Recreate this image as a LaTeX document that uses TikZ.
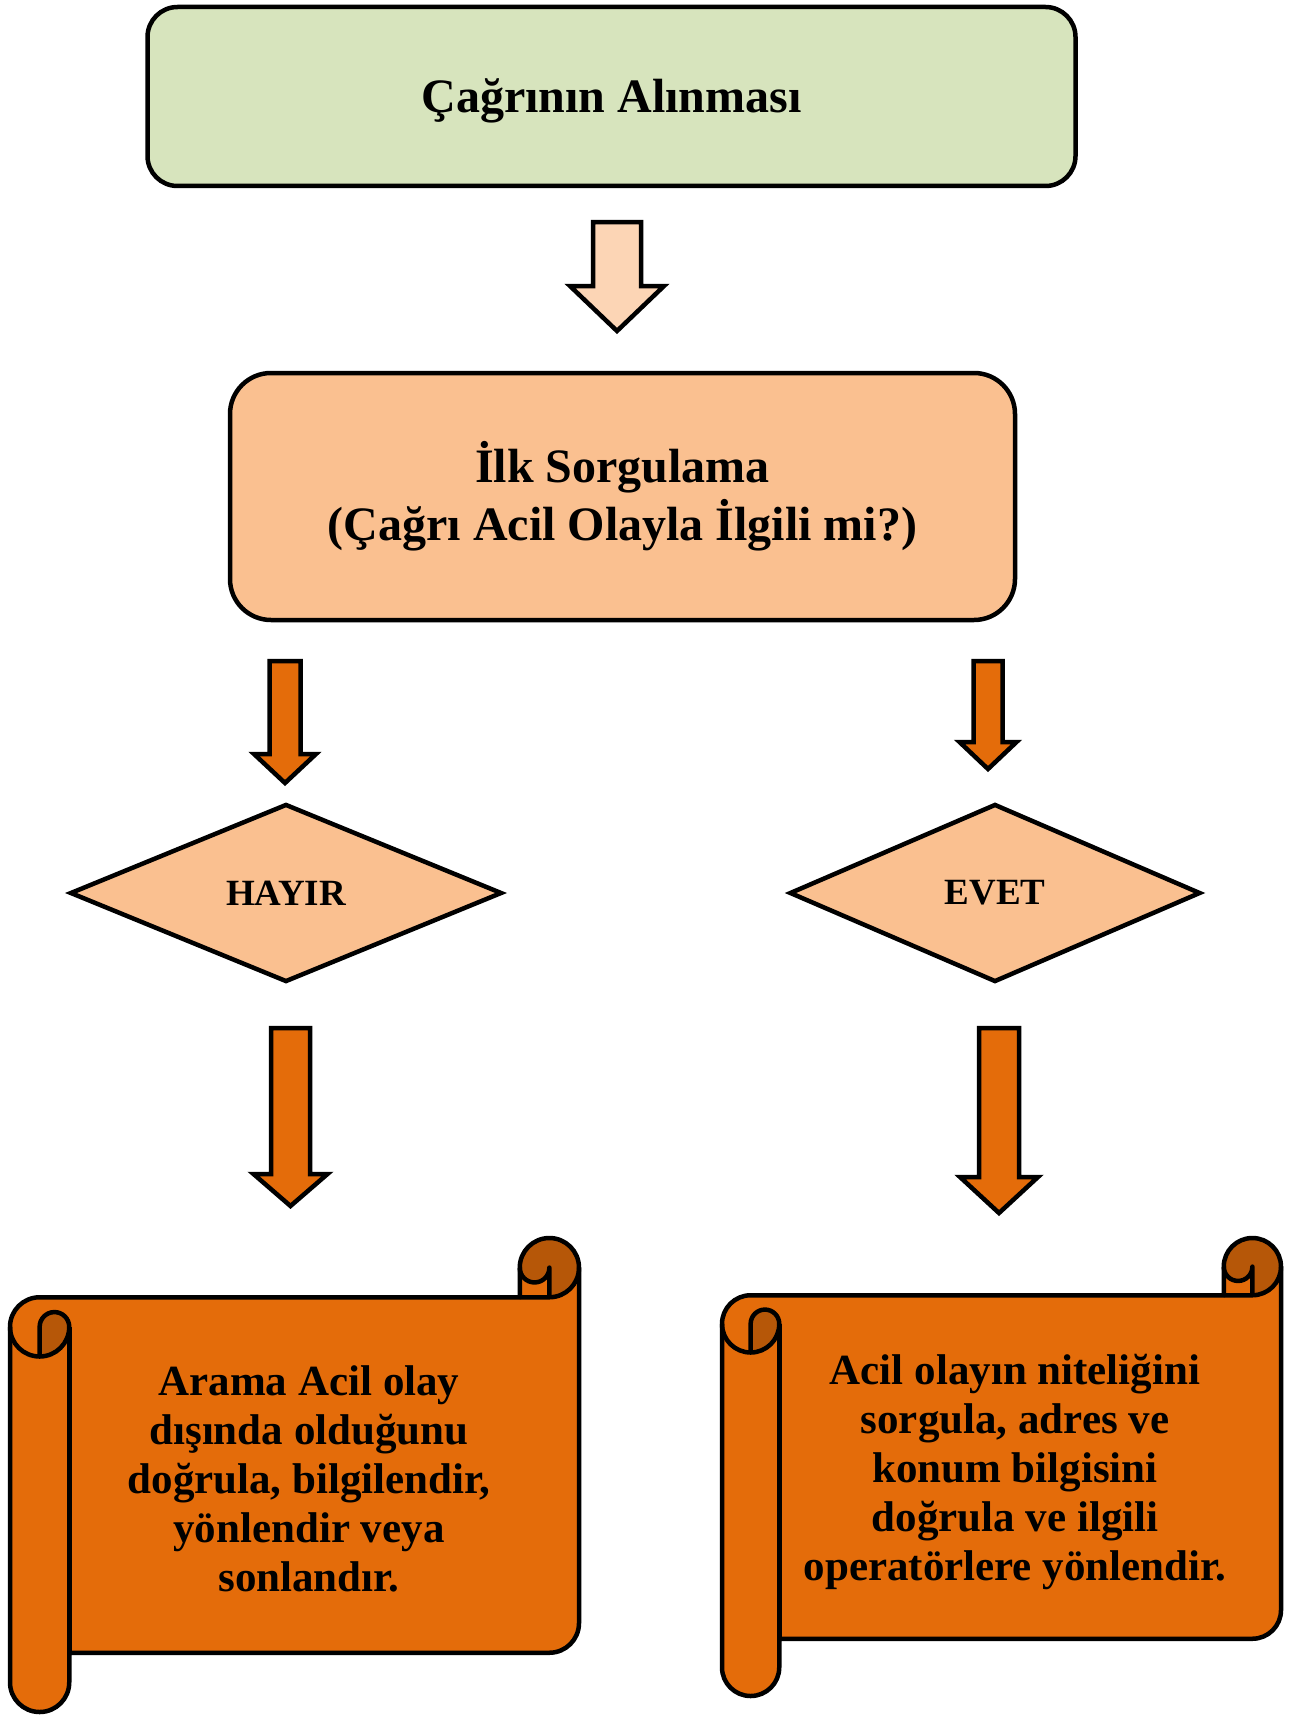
\documentclass[tikz,border=0pt]{standalone}
\usepackage{fontspec}
\setmainfont{Liberation Serif}
\usetikzlibrary{shapes.geometric}
\definecolor{CallGreen}{HTML}{D7E4BD}
\definecolor{Peach}{HTML}{FAC090}
\definecolor{PalePeach}{HTML}{FCD5B5}
\definecolor{Burnt}{HTML}{E46C0A}
\definecolor{BurntDark}{HTML}{B65708}

% block arrow pointing down: start, half shaft, half head, shaft length, head length, fill
\newcommand{\blockarrow}[6]{%
  \draw[blockarr,fill=#6] (#1) ++(-#2,0) -- ++(2*#2,0) -- ++(0,-#4) -- ++(#3-#2,0)
    -- ++(-#3,-#5) -- ++(-#3,#5) -- ++(#3-#2,0) -- cycle;}

% horizontal scroll: left, top, right, bottom
\newcommand{\scrollshape}[4]{%
  \pgfmathsetmacro\rollw{0.125*min((#3)-(#1),(#2)-(#4))}%
  \pgfmathsetmacro\rollh{\rollw/2}%
  \pgfmathsetmacro\rollq{\rollw/4}%
  \def\scrollpath{(#1,#2-1.5*\rollw) arc[start angle=180,end angle=90,radius=\rollh]
    -- (#3-\rollw,#2-\rollw) -- (#3-\rollw,#2-\rollh) arc[start angle=180,end angle=0,radius=\rollh]
    -- (#3,#4+1.5*\rollw) arc[start angle=0,end angle=-90,radius=\rollh]
    -- (#1+\rollw,#4+\rollw) -- (#1+\rollw,#4+\rollh) arc[start angle=0,end angle=-180,radius=\rollh]
    -- cycle}%
  \fill[Burnt] \scrollpath;
  \fill[BurntDark] (#1+\rollh,#2-2*\rollw) arc[start angle=-90,end angle=0,radius=\rollh]
    arc[start angle=0,end angle=180,radius=\rollq] -- cycle;
  \fill[BurntDark] (#3-\rollh,#2-\rollw) arc[start angle=-90,end angle=180,radius=\rollh]
    arc[start angle=180,end angle=360,radius=\rollq] -- cycle;
  \draw[scrollline] \scrollpath;
  \draw[scrollline] (#3-\rollw,#2-\rollw) -- (#3-\rollh,#2-\rollw) arc[start angle=-90,end angle=0,radius=\rollh];
  \draw[scrollline] (#3-\rollh,#2-\rollw) -- (#3-\rollh,#2-\rollh) arc[start angle=0,end angle=-180,radius=\rollq];
  \draw[scrollline] (#1+\rollh,#2-2*\rollw) -- (#1+\rollh,#2-1.5*\rollw)
    arc[start angle=180,end angle=0,radius=\rollq] arc[start angle=0,end angle=-180,radius=\rollh];
  \draw[scrollline] (#1+\rollw,#2-1.5*\rollw) -- (#1+\rollw,#4+\rollw);}

\begin{document}
\begin{tikzpicture}[x=1pt,y=1pt,
    callbox/.style={draw,line width=4.5pt,rounded corners=30pt,fill=CallGreen,minimum width=928pt,minimum height=179pt,text height=43pt,text depth=10pt,font=\fontsize{48}{58}\selectfont\bfseries},
    askbox/.style={draw,line width=4.5pt,rounded corners=41pt,fill=Peach,minimum width=785pt,minimum height=247pt,align=center,font=\fontsize{48}{58}\selectfont\bfseries},
    answer/.style={diamond,draw,line width=4.5pt,fill=Peach,aspect=2.4,minimum height=178pt,font=\fontsize{37}{44}\selectfont\bfseries},
    note/.style={align=center,font=\fontsize{43}{49}\selectfont\bfseries},
    blockarr/.style={draw,line width=4.5pt},
    scrollline/.style={draw,line width=4.5pt,line join=round}]
  \useasboundingbox (0,0) rectangle (1290,-1715);

  \node[callbox] (cagri) at (611.5,-96.5) {Çağrının Alınması};
  \node[askbox] (sorgu) at (622.5,-496.5) {İlk Sorgulama\\(Çağrı Acil Olayla İlgili mi?)};
  \node[answer,minimum width=432pt] (hayir) at (286,-893) {\raisebox{-2pt}{HAYIR}};
  \node[answer,minimum width=411pt] (evet) at (995,-893) {\raisebox{-2pt}{EVET}};

  \coordinate (a1) at (617,-222);
  \coordinate (a2) at (285,-661);
  \coordinate (a3) at (988,-661);
  \coordinate (a4) at (290.5,-1028);
  \coordinate (a5) at (999,-1028);
  \blockarrow{a1}{24}{47}{64}{45}{PalePeach}
  \blockarrow{a2}{15.5}{31}{93}{29}{Burnt}
  \blockarrow{a3}{14.5}{28.5}{81}{27}{Burnt}
  \blockarrow{a4}{19.5}{37}{146}{32}{Burnt}
  \blockarrow{a5}{20}{39}{149}{36}{Burnt}

  \scrollshape{10}{-1238}{579}{-1712}
  \node[note] (hayirnote) at (309,-1479) {Arama Acil olay\\dışında olduğunu\\doğrula, bilgilendir,\\yönlendir veya\\sonlandır.};
  \scrollshape{722}{-1238}{1281}{-1696}
  \node[note] (evetnote) at (1015,-1472) {Acil olayın niteliğini\\sorgula, adres ve\\konum bilgisini\\doğrula ve ilgili\\operatörlere yönlendir.};
\end{tikzpicture}
\end{document}
